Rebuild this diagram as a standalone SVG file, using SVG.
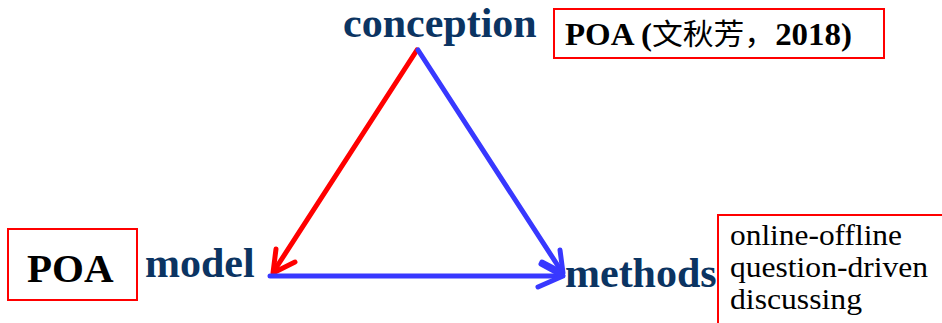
<svg xmlns="http://www.w3.org/2000/svg" width="942" height="323" viewBox="0 0 942 323">
<style>
.lbl{font-family:"Liberation Serif","Times New Roman",serif;font-weight:bold;fill:#0b3462;font-size:42px}
.box{fill:#fff;stroke:#ff0000;stroke-width:2}
.bt{font-family:"Liberation Serif","Times New Roman",serif;fill:#000}
.red{stroke:#ff0000;stroke-width:5;fill:none;stroke-linecap:round;stroke-linejoin:round}
.blue{stroke:#3838ff;stroke-width:5;fill:none;stroke-linecap:round;stroke-linejoin:round}
</style>
<rect width="942" height="323" fill="#fff"/>
<g id="connectors">
<path class="red" d="M417,50 L274,271"/>
<path class="red" d="M276,249 L273,273 L295,262"/>
<path class="blue" d="M418,50 L562,272"/>
<path class="blue" d="M560,250 L563,273 L542,262"/>
<path class="blue" d="M270,276 L561,276"/>
<path class="blue" d="M541,264 L563,276 L538,287"/>
</g>
<g id="conception">
<text class="lbl" x="343" y="37">conception</text>
</g>
<g id="ref-box">
<rect class="box" x="554" y="9" width="330" height="49"/>
<text class="bt" x="565" y="45" font-size="31" textLength="287" lengthAdjust="spacingAndGlyphs"><tspan font-weight="bold">POA (</tspan><tspan font-family="'Noto Sans CJK SC',sans-serif" font-size="29">文秋芳，</tspan><tspan font-weight="bold">2018)</tspan></text>
</g>
<g id="poa-box">
<rect class="box" x="8" y="229" width="129" height="71"/>
<text class="bt" x="27" y="282" font-size="41" font-weight="bold">POA</text>
</g>
<g id="model">
<text class="lbl" x="145" y="277">model</text>
</g>
<g id="methods">
<text class="lbl" x="565" y="287">methods</text>
</g>
<g id="methods-box">
<rect class="box" x="718" y="215" width="230" height="112"/>
<text class="bt" x="730" y="245" font-size="29" textLength="172" lengthAdjust="spacingAndGlyphs">online-offline</text>
<text class="bt" x="730" y="277" font-size="29" textLength="198" lengthAdjust="spacingAndGlyphs">question-driven</text>
<text class="bt" x="730" y="309" font-size="29" textLength="132" lengthAdjust="spacingAndGlyphs">discussing</text>
</g>
</svg>
